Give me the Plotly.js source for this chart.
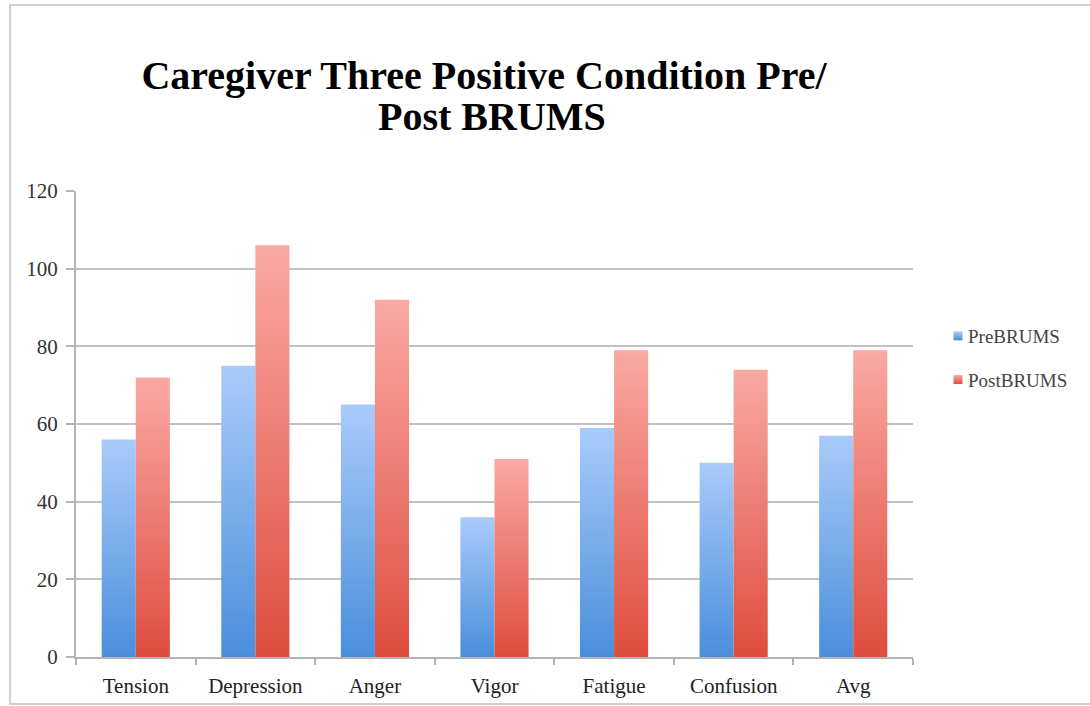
<!DOCTYPE html>
<html>
<head>
<meta charset="utf-8">
<script src="https://cdn.plot.ly/plotly-3.0.1.min.js"></script>
<style>html,body{margin:0;padding:0;background:#fff;}</style>
</head>
<body>
<div id="chart" style="width:1090px;height:706px;"></div>
<script>
const categories = ["Tension", "Depression", "Anger", "Vigor", "Fatigue", "Confusion", "Avg"];
const preBRUMS = [56, 75, 65, 36, 59, 50, 57];
const postBRUMS = [72, 106, 92, 51, 79, 74, 79];
const yTicks = [0, 20, 40, 60, 80, 100, 120];

const serif = "Liberation Serif, Times New Roman, serif";

const data = [
  {type: "bar", name: "PreBRUMS", x: categories, y: preBRUMS,
   marker: {color: "#6fa3ea"}, legendgroup: "a", hoverinfo: "none"},
  {type: "bar", name: "PostBRUMS", x: categories, y: postBRUMS,
   marker: {color: "#ec7b72"}, legendgroup: "b", hoverinfo: "none"}
];

const px = (p) => (p - 76) / 837;
const py = (p) => (657 - p) / 466;

const layout = {
  width: 1090, height: 706,
  margin: {l: 76, r: 177, t: 191, b: 49},
  paper_bgcolor: "#ffffff", plot_bgcolor: "#ffffff",
  barmode: "group", bargap: 0.43, bargroupgap: 0,
  title: {text: "Caregiver Three Positive Condition Pre/",
          font: {family: serif, size: 40, color: "#000", weight: "bold"},
          xref: "paper", x: px(484), xanchor: "center",
          yref: "container", y: 1 - 75 / 706, yanchor: "middle"},
  annotations: [{text: "Post BRUMS", showarrow: false,
    font: {family: serif, size: 40, color: "#000", weight: "bold"},
    xref: "paper", yref: "paper", x: px(492), y: py(117),
    xanchor: "center", yanchor: "middle"}],
  xaxis: {type: "category", showline: true, linecolor: "#b4b4b4", linewidth: 2,
          ticks: "outside", tickson: "boundaries", ticklen: 6, tickcolor: "#b4b4b4", tickwidth: 2,
          tickfont: {family: serif, size: 21, color: "#222"}, ticklabelstandoff: 9,
          showgrid: false, fixedrange: true},
  yaxis: {range: [0, 120], tickvals: yTicks, ticktext: yTicks.map(String),
          showline: true, linecolor: "#b4b4b4", linewidth: 2,
          ticks: "outside", ticklen: 8, tickcolor: "#b4b4b4", tickwidth: 2,
          showgrid: true, gridcolor: "#c2c2c2", gridwidth: 2, zeroline: false,
          tickfont: {family: serif, size: 21, color: "#333"}, ticklabelstandoff: 4,
          fixedrange: true},
  legend: {x: px(928), xanchor: "left", y: py(358), yanchor: "middle",
           font: {family: serif, size: 19, color: "#444"},
           traceorder: "grouped", tracegroupgap: 16, bgcolor: "rgba(0,0,0,0)"},
  shapes: [{type: "rect", xref: "paper", yref: "paper",
            x0: px(10), x1: px(1100), y0: py(704), y1: py(5),
            line: {color: "#cfcfcf", width: 2}, fillcolor: "rgba(0,0,0,0)", layer: "below"}],
  showlegend: true
};

Plotly.newPlot("chart", data, layout, {displayModeBar: false, staticPlot: true}).then(function (gd) {
  const svg = gd.querySelector(".main-svg");
  const ns = "http://www.w3.org/2000/svg";
  let defs = svg.querySelector("defs");
  if (!defs) { defs = document.createElementNS(ns, "defs"); svg.insertBefore(defs, svg.firstChild); }
  function grad(id, top, bottom) {
    const g = document.createElementNS(ns, "linearGradient");
    g.setAttribute("id", id);
    g.setAttribute("x1", "0"); g.setAttribute("y1", "0");
    g.setAttribute("x2", "0"); g.setAttribute("y2", "1");
    [[0, top], [1, bottom]].forEach(function (s) {
      const st = document.createElementNS(ns, "stop");
      st.setAttribute("offset", s[0]);
      st.setAttribute("stop-color", s[1]);
      g.appendChild(st);
    });
    defs.appendChild(g);
  }
  grad("gradPre", "#a9cbfa", "#4a8edb");
  grad("gradPost", "#faa9a4", "#de4d3e");
  const ids = ["gradPre", "gradPost"];
  gd.querySelectorAll(".barlayer .trace.bars").forEach(function (t, i) {
    t.querySelectorAll(".point path").forEach(function (p) { p.style.fill = "url(#" + ids[i] + ")"; });
  });
  gd.querySelectorAll(".legend .traces").forEach(function (t, i) {
    t.querySelectorAll(".legendpoints path").forEach(function (p) {
      p.setAttribute("d", "M4.5,4.5H-4.5V-4.5H4.5Z");
      p.setAttribute("transform", "translate(30,0)");
      p.style.fill = "url(#" + ids[i] + ")";
      p.style.stroke = "none";
    });
  });
});
</script>
</body>
</html>
